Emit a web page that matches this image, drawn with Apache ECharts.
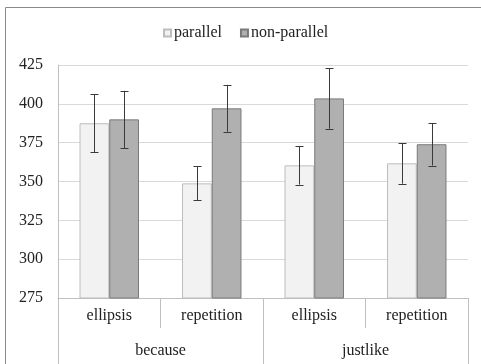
<!DOCTYPE html>
<html><head><meta charset="utf-8">
<script src="https://cdn.jsdelivr.net/npm/echarts@6/dist/echarts.min.js"></script>
<style>html,body{margin:0;padding:0;background:#fff}#c{width:481px;height:364px}</style>
</head><body><div id="c"></div>
<script>
const subCategories = ['ellipsis','repetition','ellipsis','repetition'];
const groups = ['because','justlike'];
const seriesNames = ['parallel','non-parallel'];
const parallelMean = [387.5, 348.8, 360.4, 361.7];
const parallelErr = [18.7, 11.0, 12.4, 13.1];
const nonParallelMean = [390.0, 397.1, 403.5, 374.0];
const nonParallelErr = [18.4, 15.1, 19.5, 13.7];
const yTicks = {min:275, max:425, interval:25};

const font = '"Liberation Serif", "Times New Roman", serif';
const fs = 16;
const catGap = 0.42;
function errSeries(means, errs, side){
  return {
    type:'custom', xAxisIndex:0, yAxisIndex:0, z:10, silent:true,
    data: means.map((m,i)=>[i, m-errs[i], m+errs[i]]),
    renderItem:function(params, api){
      const i = api.value(0);
      const lo = api.coord([i, api.value(1)]);
      const hi = api.coord([i, api.value(2)]);
      const bw = api.size([1,0])[0];
      const off = side * bw*(1-catGap)/4;
      const x = Math.round(lo[0]+off)+0.5;
      const cap = 4;
      const st = {stroke:'#3a3a3a', lineWidth:1};
      return {type:'group', children:[
        {type:'line', shape:{x1:x,y1:hi[1],x2:x,y2:lo[1]}, style:st},
        {type:'line', shape:{x1:x-cap,y1:Math.round(hi[1])+0.5,x2:x+cap,y2:Math.round(hi[1])+0.5}, style:st},
        {type:'line', shape:{x1:x-cap,y1:Math.round(lo[1])+0.5,x2:x+cap,y2:Math.round(lo[1])+0.5}, style:st}
      ]};
    }
  };
}
const chart = echarts.init(document.getElementById('c'));
chart.setOption({
  animation:false,
  backgroundColor:'#fff',
  textStyle:{fontFamily:font},
  graphic:[{type:'rect', silent:true, shape:{x:5.5,y:7.5,width:520,height:420}, style:{fill:'none', stroke:'#8a8a8a', lineWidth:1}}],
  legend:{
    data:seriesNames, left:158, top:20, itemWidth:7, itemHeight:7, itemGap:18,
    icon:'rect',
    textStyle:{fontFamily:font, fontSize:fs, color:'#222', padding:[0,0,0,-2]}
  },
  grid:{left:58, right:13, top:65, bottom:66},
  xAxis:[{
    type:'category', data:subCategories, position:'bottom',
    axisLine:{show:true, lineStyle:{color:'#bfbfbf'}},
    axisTick:{show:true, length:30, alignWithLabel:false, lineStyle:{color:'#bfbfbf'}},
    axisLabel:{fontFamily:font, fontSize:fs, color:'#222', margin:10},
    splitLine:{show:false}
  },{
    type:'category', data:groups, position:'bottom',
    axisLine:{show:false},
    axisTick:{show:true, length:70, alignWithLabel:false, lineStyle:{color:'#bfbfbf'}},
    axisLabel:{fontFamily:font, fontSize:fs, color:'#222', margin:45},
    splitLine:{show:false}
  }],
  yAxis:{
    type:'value', min:yTicks.min, max:yTicks.max, interval:yTicks.interval,
    axisLine:{show:true, lineStyle:{color:'#bfbfbf'}},
    axisTick:{show:false},
    axisLabel:{fontFamily:font, fontSize:fs, color:'#222', margin:15},
    splitLine:{show:true, lineStyle:{color:'#d9d9d9'}}
  },
  series:[
    {name:seriesNames[0], type:'bar', data:parallelMean, barGap:'0%', barCategoryGap:(catGap*100)+'%',
      itemStyle:{color:'#f2f2f2', borderColor:'#bdbdbd', borderWidth:1}},
    {name:seriesNames[1], type:'bar', data:nonParallelMean, barGap:'0%', barCategoryGap:(catGap*100)+'%',
      itemStyle:{color:'#b0b0b0', borderColor:'#7a7a7a', borderWidth:1}},
    errSeries(parallelMean, parallelErr, -1),
    errSeries(nonParallelMean, nonParallelErr, 1)
  ]
});
</script></body></html>
